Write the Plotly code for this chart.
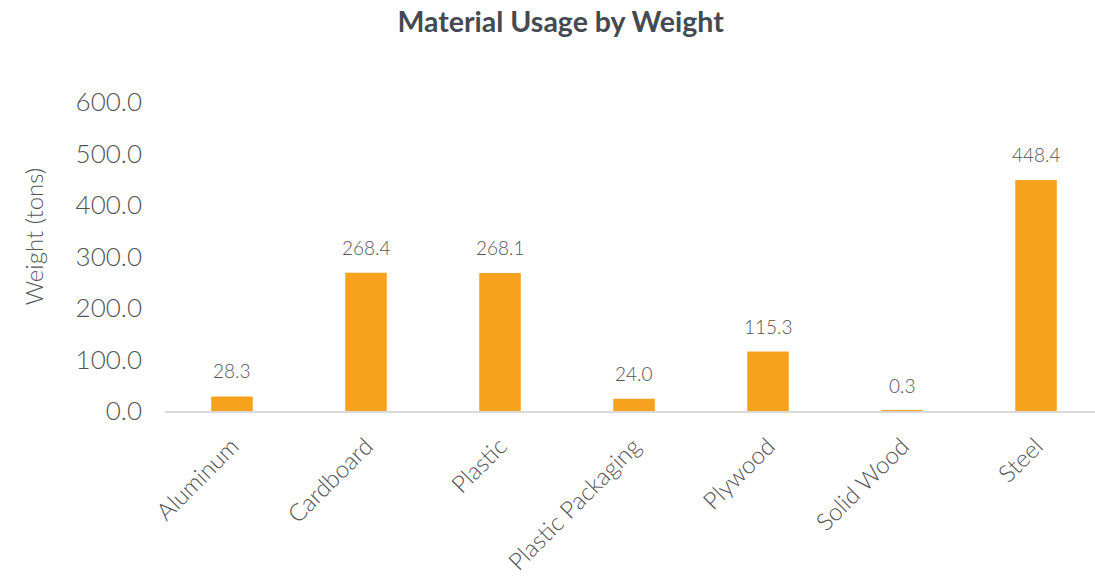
import plotly.graph_objects as go

categories = ["Aluminum", "Cardboard", "Plastic", "Plastic Packaging", "Plywood", "Solid Wood", "Steel"]
weights = [28.3, 268.4, 268.1, 24.0, 115.3, 0.3, 448.4]
y_ticks = [0, 100, 200, 300, 400, 500, 600]
y_tick_labels = ["0.0", "100.0", "200.0", "300.0", "400.0", "500.0", "600.0"]

font_family = "Lato, 'Open Sans', sans-serif"
grey = "#545454"

fig = go.Figure(go.Bar(
    x=categories,
    y=weights,
    width=0.31,
    marker=dict(color="#F7A21E", line=dict(width=0)),
    cliponaxis=False,
))

for c, v in zip(categories, weights):
    fig.add_annotation(x=c, y=v, text=f"{v:.1f}", showarrow=False, yanchor="bottom", yshift=12,
                       font=dict(size=19, color=grey, family=font_family, weight=300))

# y-axis title (placed as in the reference, slightly above the plot centre)
fig.add_annotation(text="Weight (tons)", xref="paper", yref="paper", x=-0.142, y=0.565,
                   xanchor="center", yanchor="middle", textangle=-90, showarrow=False,
                   font=dict(size=24, color=grey, family=font_family, weight=300))

fig.update_layout(
    width=1095, height=583,
    margin=dict(l=165, r=0, t=102, b=172),
    paper_bgcolor="white", plot_bgcolor="white",
    title=dict(text="<b>Material Usage by Weight</b>", x=0.512, xanchor="center", y=0.962, yanchor="middle",
               font=dict(size=28.5, color="#454a52", family=font_family)),
    xaxis=dict(range=[-0.5, 6.44], tickangle=-45, showline=True, linecolor="#d9d9d9", linewidth=1.5,
               ticks="", ticklabelstandoff=10,
               tickfont=dict(size=24, color=grey, family=font_family, weight=300)),
    yaxis=dict(range=[0, 600], tickvals=y_ticks, ticktext=y_tick_labels, showgrid=False, zeroline=False,
               showline=False, ticks="", ticklen=0, ticklabelstandoff=22,
               tickfont=dict(size=26, color=grey, family=font_family, weight=300)),
    showlegend=False,
)

fig.write_html("out.html")
